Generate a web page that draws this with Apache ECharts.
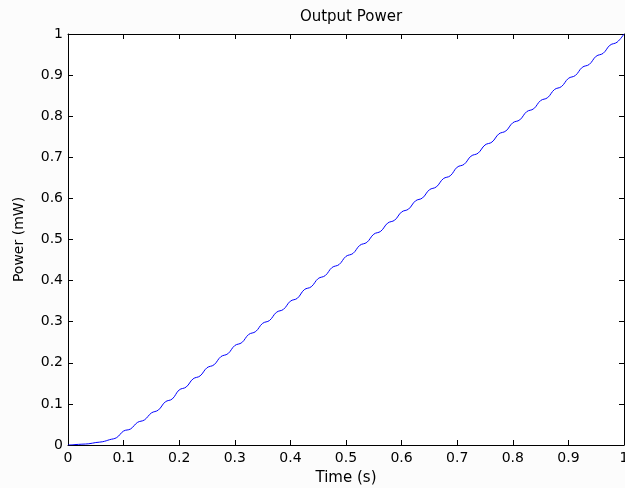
<!DOCTYPE html>
<html>
<head>
<meta charset="utf-8">
<title>Output Power</title>
<script src="https://cdn.jsdelivr.net/npm/echarts@6/dist/echarts.min.js"></script>
<style>
  html, body { margin: 0; padding: 0; background: #fcfcfc; }
  #chart { width: 625px; height: 488px; }
</style>
</head>
<body>
<div id="chart"></div>
<script>
// time samples (s)
var times = [
    0, 0.0125, 0.025, 0.0375, 0.05, 0.0625, 0.075, 0.0875, 0.1, 0.1125,
    0.125, 0.1375, 0.15, 0.1625, 0.175, 0.1875, 0.2, 0.2125, 0.225, 0.2375,
    0.25, 0.2625, 0.275, 0.2875, 0.3, 0.3125, 0.325, 0.3375, 0.35, 0.3625,
    0.375, 0.3875, 0.4, 0.4125, 0.425, 0.4375, 0.45, 0.4625, 0.475, 0.4875,
    0.5, 0.5125, 0.525, 0.5375, 0.55, 0.5625, 0.575, 0.5875, 0.6, 0.6125,
    0.625, 0.6375, 0.65, 0.6625, 0.675, 0.6875, 0.7, 0.7125, 0.725, 0.7375,
    0.75, 0.7625, 0.775, 0.7875, 0.8, 0.8125, 0.825, 0.8375, 0.85, 0.8625,
    0.875, 0.8875, 0.9, 0.9125, 0.925, 0.9375, 0.95, 0.9625, 0.975, 0.9875,
    1
];
// output power (mW)
var power = [
    0, 0.001, 0.002, 0.003, 0.006, 0.008, 0.013, 0.018, 0.034, 0.039,
    0.055, 0.061, 0.078, 0.085, 0.105, 0.112, 0.134, 0.141, 0.161, 0.168,
    0.188, 0.195, 0.215, 0.222, 0.242, 0.249, 0.269, 0.276, 0.296, 0.303,
    0.323, 0.330, 0.350, 0.357, 0.378, 0.385, 0.405, 0.412, 0.432, 0.439,
    0.459, 0.466, 0.486, 0.493, 0.513, 0.520, 0.540, 0.547, 0.567, 0.574,
    0.594, 0.601, 0.621, 0.628, 0.648, 0.655, 0.676, 0.683, 0.703, 0.710,
    0.730, 0.737, 0.757, 0.764, 0.784, 0.791, 0.811, 0.818, 0.838, 0.845,
    0.865, 0.872, 0.892, 0.899, 0.919, 0.926, 0.946, 0.953, 0.973, 0.980,
    1.000
];

var chart = echarts.init(document.getElementById('chart'));

var font = 'DejaVu Sans';
var axisLine = { show: true, onZero: false, lineStyle: { color: '#000', width: 1 } };
var tickIn = { show: true, inside: true, length: 5, lineStyle: { color: '#000', width: 1 } };

var seriesData = [];
for (var i = 0; i < times.length; i++) {
    seriesData.push([times[i], power[i]]);
}

var option = {
    backgroundColor: '#fcfcfc',
    animation: false,
    title: {
        text: 'Output Power',
        left: 346,
        textAlign: 'center',
        top: 5,
        textStyle: { fontFamily: font, fontSize: 15, fontWeight: 'normal', color: '#000' }
    },
    grid: {
        left: 68, right: 1, top: 34, bottom: 43,
        outerBoundsMode: 'none',
        containLabel: false,
        show: true, backgroundColor: '#ffffff', borderWidth: 0
    },
    xAxis: [
        {
            type: 'value', min: 0, max: 1, interval: 0.1,
            position: 'bottom',
            name: 'Time (s)', nameLocation: 'middle', nameGap: 26,
            nameTextStyle: { fontFamily: font, fontSize: 15, color: '#000' },
            axisLine: axisLine, axisTick: tickIn,
            axisLabel: { fontFamily: font, fontSize: 14, color: '#000', margin: 6 },
            splitLine: { show: false }
        },
        {
            type: 'value', min: 0, max: 1, interval: 0.1,
            position: 'top',
            axisLine: axisLine, axisTick: tickIn,
            axisLabel: { show: false }, splitLine: { show: false }
        }
    ],
    yAxis: [
        {
            type: 'value', min: 0, max: 1, interval: 0.1,
            position: 'left',
            name: 'Power (mW)', nameLocation: 'middle', nameGap: 42,
            nameTextStyle: { fontFamily: font, fontSize: 14, color: '#000' },
            axisLine: axisLine, axisTick: tickIn,
            axisLabel: { fontFamily: font, fontSize: 14, color: '#000', margin: 5 },
            splitLine: { show: false }
        },
        {
            type: 'value', min: 0, max: 1, interval: 0.1,
            position: 'right',
            axisLine: axisLine, axisTick: tickIn,
            axisLabel: { show: false }, splitLine: { show: false }
        }
    ],
    series: [
        {
            name: 'Power',
            type: 'line',
            xAxisIndex: 0,
            yAxisIndex: 0,
            data: seriesData,
            smooth: 0.4,
            showSymbol: false,
            lineStyle: { color: '#0000ff', width: 1 }
        }
    ]
};

chart.setOption(option);
</script>
</body>
</html>
